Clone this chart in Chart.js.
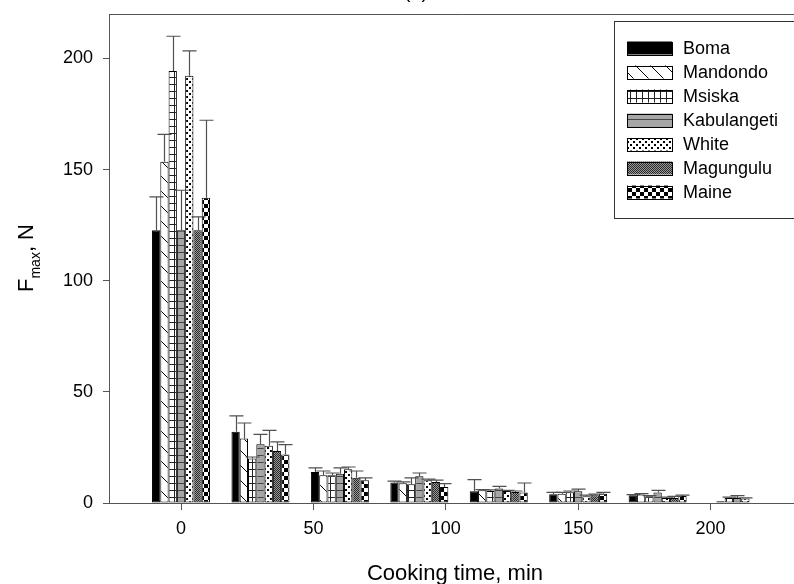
<!DOCTYPE html>
<html>
<head>
<meta charset="utf-8">
<script src="https://cdn.jsdelivr.net/npm/chart.js@4.4.1/dist/chart.umd.min.js"></script>
<style>
  html, body { margin: 0; padding: 0; background: #fff; overflow: hidden; }
  #wrap { width: 794px; height: 584px; overflow: hidden; position: relative; }
  canvas { display: block; }
</style>
</head>
<body>
<div id="wrap"><canvas id="c" width="830" height="584"></canvas></div>
<script>
// ---- data ----
const times = [0, 30, 60, 90, 120, 150, 180, 210];
const seriesNames = ['Boma', 'Mandondo', 'Msiska', 'Kabulangeti', 'White', 'Magungulu', 'Maine'];
const boma        = [122.7, 32.0, 14.0, 9.2, 5.3, 3.9, 3.5, 0];
const mandondo    = [153.5, 29.0, 12.5, 8.9, 5.7, 4.2, 3.8, 0.8];
const msiska      = [194.4, 20.0, 12.5, 8.4, 5.4, 4.8, 3.0, 2.3];
const kabulangeti = [122.7, 26.4, 13.2, 12.0, 6.5, 5.3, 4.7, 2.3];
const white       = [192.2, 25.8, 15.2, 10.2, 5.4, 3.0, 2.3, 2.0];
const magungulu   = [122.7, 23.4, 11.4, 9.5, 5.0, 3.5, 2.3, 0];
const maine       = [137.3, 21.8, 10.2, 7.2, 4.7, 4.2, 3.2, 0];
// upper error (SD)
const bomaErr        = [15.0, 7.2, 1.8, 0.6, 5.2, 0.9, 0.3, 0];
const mandondoErr    = [12.3, 7.0, 1.9, 0.6, 0.3, 0.6, 0.4, 0];
const msiskaErr      = [15.6, 0.7, 1.0, 2.9, 0.5, 0.6, 0.3, 0.3];
const kabulangetiErr = [18.0, 4.5, 2.6, 1.5, 1.0, 0.9, 1.0, 1.0];
const whiteErr       = [11.2, 6.9, 1.0, 0.5, 0.3, 0.5, 0.3, 0.3];
const magunguluErr   = [6.0, 4.1, 3.0, 0.8, 0.4, 0.5, 0.7, 0];
const maineErr       = [34.9, 4.5, 1.1, 1.5, 4.3, 0.6, 0.3, 0];
const xTicks = [0, 50, 100, 150, 200];
const yTicks = [0, 50, 100, 150, 200];

const seriesValues = [boma, mandondo, msiska, kabulangeti, white, magungulu, maine];
const seriesErrors = [bomaErr, mandondoErr, msiskaErr, kabulangetiErr, whiteErr, magunguluErr, maineErr];

const FONT = '"Liberation Sans", Arial, sans-serif';

// ---- patterns ----
function makePattern(w, h, draw) {
  const c = document.createElement('canvas');
  c.width = w; c.height = h;
  const g = c.getContext('2d');
  draw(g, w, h);
  return g.createPattern(c, 'repeat');
}
const patterns = [
  '#000000',
  makePattern(15, 15, (g, w, h) => {
    g.fillStyle = '#fff'; g.fillRect(0, 0, w, h);
    g.fillStyle = '#000';
    for (let i = 0; i < 15; i++) g.fillRect(i, i, 1, 1);
  }),
  makePattern(6, 7, (g, w, h) => {
    g.fillStyle = '#fff'; g.fillRect(0, 0, w, h);
    g.fillStyle = '#222';
    g.fillRect(0, 0, w, 1); g.fillRect(0, 0, 1, h);
  }),
  makePattern(4, 7, (g, w, h) => {
    g.fillStyle = '#a6a6a6'; g.fillRect(0, 0, w, h);
    g.fillStyle = '#444';
    g.fillRect(0, 0, w, 1);
  }),
  makePattern(6, 6, (g, w, h) => {
    g.fillStyle = '#fff'; g.fillRect(0, 0, w, h);
    g.fillStyle = '#000';
    g.fillRect(0, 0, 2, 2); g.fillRect(3, 3, 2, 2);
  }),
  makePattern(2, 2, (g, w, h) => {
    g.fillStyle = '#9a9a9a'; g.fillRect(0, 0, w, h);
    g.fillStyle = '#2a2a2a';
    g.fillRect(0, 0, 1, 1); g.fillRect(1, 1, 1, 1);
  }),
  makePattern(8, 8, (g, w, h) => {
    g.fillStyle = '#fff'; g.fillRect(0, 0, w, h);
    g.fillStyle = '#000';
    g.fillRect(0, 0, 4, 4); g.fillRect(4, 4, 4, 4);
  })
];

// ---- plugins ----
const errorBars = {
  id: 'errorBars',
  afterDatasetsDraw(chart) {
    const ctx = chart.ctx;
    const ys = chart.scales.y;
    ctx.save();
    ctx.strokeStyle = '#505050';
    ctx.lineWidth = 1.2;
    chart.data.datasets.forEach((ds, i) => {
      const meta = chart.getDatasetMeta(i);
      meta.data.forEach((el, j) => {
        const v = seriesValues[i][j], e = seriesErrors[i][j];
        if (!e) return;
        const yTop = ys.getPixelForValue(v + e);
        const x = Math.round(el.x) + 0.5;
        ctx.beginPath();
        ctx.moveTo(x, el.y);
        ctx.lineTo(x, yTop);
        ctx.moveTo(x - 7, yTop);
        ctx.lineTo(x + 7, yTop);
        ctx.stroke();
      });
    });
    ctx.restore();
  }
};

const decorations = {
  id: 'decorations',
  afterDraw(chart) {
    const ctx = chart.ctx;
    const a = chart.chartArea;
    ctx.save();
    // frame
    ctx.strokeStyle = '#555';
    ctx.lineWidth = 1;
    ctx.beginPath();
    ctx.moveTo(a.left, Math.round(a.top) + 0.5);
    ctx.lineTo(a.right, Math.round(a.top) + 0.5);
    ctx.lineTo(a.right, a.bottom);
    ctx.stroke();

    // legend box
    ctx.strokeStyle = '#333';
    ctx.strokeRect(614.5, 21.5, 240, 197);
    seriesNames.forEach((name, i) => {
      const cy = 48 + i * 24;
      ctx.fillStyle = patterns[i];
      ctx.fillRect(627, cy - 6.5, 45, 13);
      ctx.strokeStyle = '#000';
      ctx.strokeRect(627.5, Math.round(cy - 6.5) + 0.5, 45, 13);
      ctx.fillStyle = '#000';
      ctx.font = '18px ' + FONT;
      ctx.textAlign = 'left';
      ctx.textBaseline = 'middle';
      ctx.fillText(name, 683, cy + 1);
    });

    // title (a), mostly cut off
    ctx.fillStyle = '#000';
    ctx.font = '20px ' + FONT;
    ctx.textAlign = 'center';
    ctx.textBaseline = 'alphabetic';
    ctx.fillText('(a)', 416, -2.5);

    // x axis title
    ctx.font = '22px ' + FONT;
    ctx.fillText('Cooking time, min', 455, 580);

    // y axis title with subscript
    ctx.translate(33, 292);
    ctx.rotate(-Math.PI / 2);
    ctx.textAlign = 'left';
    ctx.font = '22px ' + FONT;
    ctx.fillText('F', 0, 0);
    const wF = ctx.measureText('F').width;
    ctx.font = '14px ' + FONT;
    ctx.fillText('max', wF, 7);
    const wM = ctx.measureText('max').width;
    ctx.font = '22px ' + FONT;
    ctx.fillText(', N', wF + wM, 0);
    ctx.restore();
  }
};

function zeroPad(s) {
  s.paddingTop = 0; s.paddingBottom = 0; s.paddingLeft = 0; s.paddingRight = 0;
}

// ---- chart ----
const datasets = seriesNames.map((name, i) => ({
  label: name,
  data: times.map((t, j) => ({ x: t, y: seriesValues[i][j] })),
  backgroundColor: patterns[i],
  borderColor: '#000',
  borderWidth: 1,
  borderSkipped: false,
  categoryPercentage: 0.73,
  barPercentage: 1.0,
  grouped: true
}));

new Chart(document.getElementById('c'), {
  type: 'bar',
  data: { datasets },
  options: {
    responsive: false,
    animation: false,
    layout: { padding: { left: 0, top: 14, right: 13.5, bottom: 0 } },
    plugins: { legend: { display: false }, tooltip: { enabled: false }, title: { display: false } },
    scales: {
      x: {
        type: 'linear',
        min: -27.2,
        max: 240,
        offset: false,
        grid: { offset: false, drawOnChartArea: false, drawTicks: true, tickLength: 7, tickColor: '#555', tickWidth: 1 },
        border: { display: true, color: '#555', width: 1 },
        ticks: { color: '#000', padding: 8, autoSkip: false, maxRotation: 0, font: { family: FONT, size: 18 } },
        afterBuildTicks: s => { s.ticks = xTicks.map(v => ({ value: v })); },
        afterFit: s => { s.height = 81; zeroPad(s); }
      },
      y: {
        type: 'linear',
        min: 0,
        max: 220,
        grid: { offset: false, drawOnChartArea: false, drawTicks: true, tickLength: 6, tickColor: '#555', tickWidth: 1 },
        border: { display: true, color: '#555', width: 1 },
        ticks: { color: '#000', padding: 10, autoSkip: false, font: { family: FONT, size: 18 } },
        afterBuildTicks: s => { s.ticks = yTicks.map(v => ({ value: v })); },
        afterFit: s => { s.width = 109; zeroPad(s); }
      }
    }
  },
  plugins: [errorBars, decorations]
});
</script>
</body>
</html>
